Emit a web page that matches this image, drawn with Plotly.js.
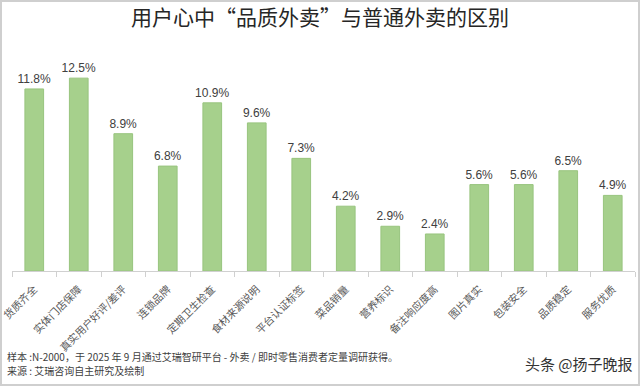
<!DOCTYPE html>
<html><head><meta charset="utf-8">
<script src="https://cdn.plot.ly/plotly-3.0.1.min.js"></script>
<style>
html,body{margin:0;padding:0;background:#fff;}
#wrap{width:640px;height:386px;box-sizing:border-box;border:2px solid #cfcfcf;position:relative;overflow:hidden;}
#chart{position:absolute;left:-2px;top:-2px;width:640px;height:386px;}
</style>
</head><body>
<div id="wrap"><div id="chart"></div></div>
<script>
const categories = ["货质齐全","实体门店保障","真实用户好评/差评","连锁品牌","定期卫生检查","食材来源说明","平台认证标签","菜品销量","营养标识","备注响应度高","图片真实","包装安全","品质稳定","服务优质"];
const values = [11.8,12.5,8.9,6.8,10.9,9.6,7.3,4.2,2.9,2.4,5.6,5.6,6.5,4.9];
const labels = values.map(v => v.toFixed(1) + "%");
const titleText = "用户心中“品质外卖”与普通外卖的区别";
const note1 = "样本 :N-2000，于 2025 年 9 月通过艾瑞智研平台 - 外卖 / 即时零售消费者定量调研获得。";
const note2 = "来源 : 艾瑞咨询自主研究及绘制";
const watermark = "头条 @扬子晚报";

const trace = {
  type: "bar",
  x: categories,
  y: values,
  text: labels,
  textposition: "outside",
  constraintext: "none",
  cliponaxis: false,
  textfont: {family: "Liberation Sans, Arial, sans-serif", size: 12, color: "#404040"},
  marker: {color: "#a6d08c", line: {color: "#98c47e", width: 1}},
  hoverinfo: "none"
};
const layout = {
  width: 640, height: 386,
  margin: {l: 12, r: 5, t: 55, b: 115},
  paper_bgcolor: "#fff", plot_bgcolor: "#fff",
  showlegend: false,
  bargap: 0.58,
  title: {text: titleText, x: 0.5, xanchor: "center", y: 0.955, yanchor: "middle",
    font: {family: "Noto Sans CJK SC", size: 21, color: "#262626"}},
  xaxis: {
    type: "category",
    tickangle: -45,
    tickson: "boundaries",
    ticks: "outside", ticklen: 5, tickcolor: "#d0d0d0",
    ticklabelstandoff: 7,
    showline: true, linecolor: "#d0d0d0", linewidth: 1,
    tickfont: {family: "Noto Sans CJK SC", size: 10.5, color: "#595959"},
    showgrid: false, zeroline: false
  },
  yaxis: {range: [0, 14], visible: false, showgrid: false, zeroline: false},
  annotations: [
    {xref: "paper", yref: "paper", x: -0.012, y: -0.395, xanchor: "left", yanchor: "middle", showarrow: false,
     text: note1, font: {family: "Noto Sans CJK SC", size: 10, color: "#404040"}},
    {xref: "paper", yref: "paper", x: -0.012, y: -0.46, xanchor: "left", yanchor: "middle", showarrow: false,
     text: note2, font: {family: "Noto Sans CJK SC", size: 10, color: "#404040"}},
    {xref: "paper", yref: "paper", x: 1.0, y: -0.43, xanchor: "right", yanchor: "middle", showarrow: false,
     text: watermark, font: {family: "Noto Sans CJK SC", size: 15, color: "#333333"}}
  ]
};
Plotly.newPlot("chart", [trace], layout, {displayModeBar: false, staticPlot: true});
</script>
</body></html>
